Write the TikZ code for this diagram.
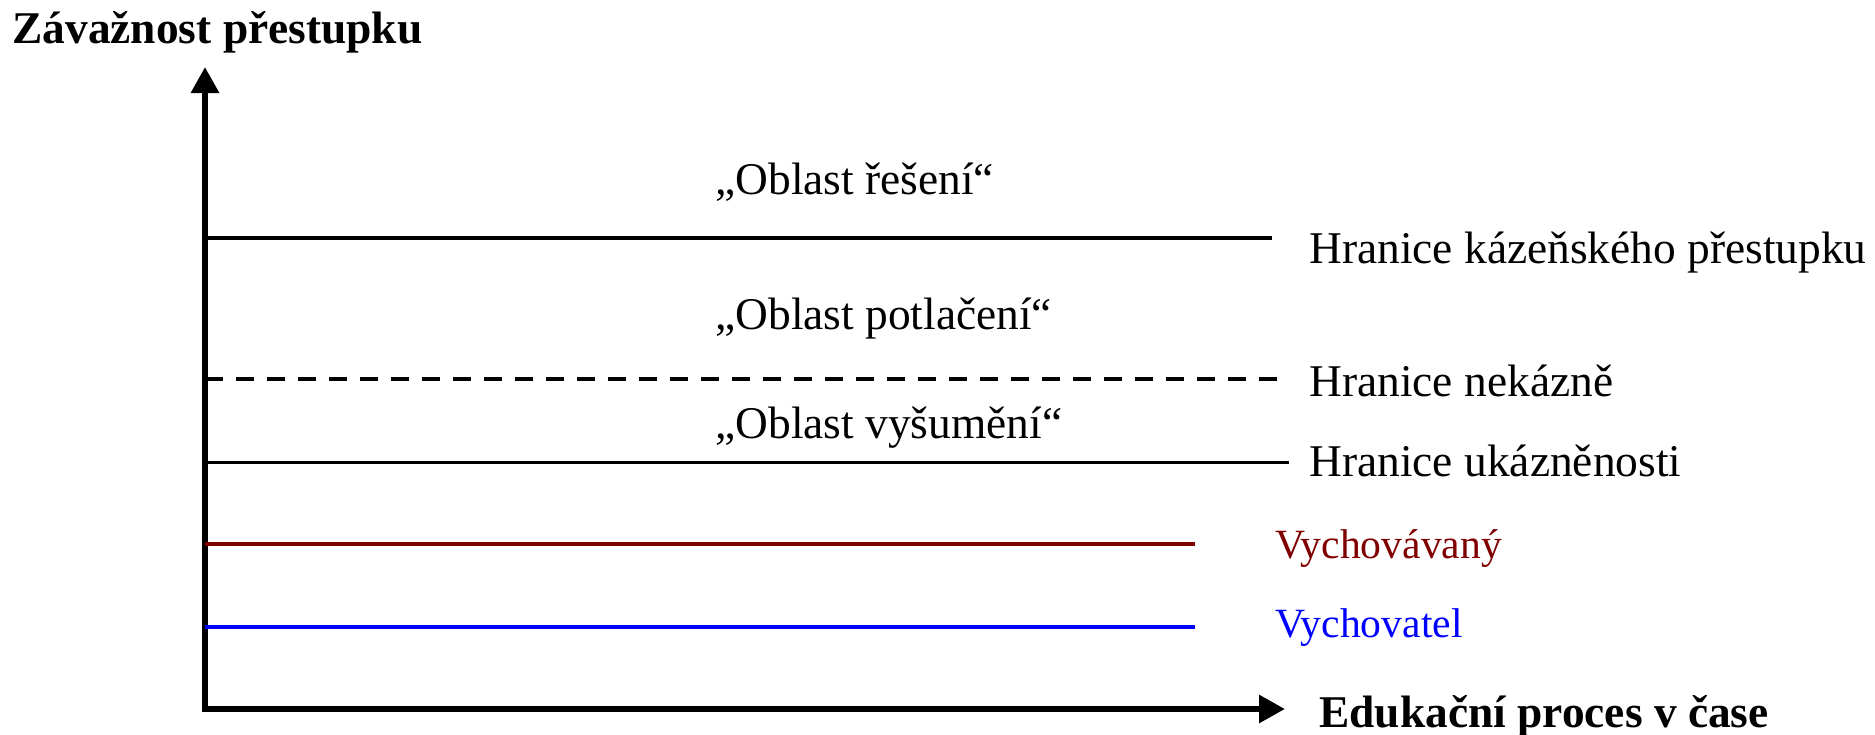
\documentclass[tikz,border=0pt]{standalone}
\usepackage{fontspec}
\setmainfont{Liberation Serif}
\usetikzlibrary{arrows.meta}
\definecolor{maroonline}{HTML}{800000}
\definecolor{blueline}{HTML}{0000FF}
\begin{document}
\begin{tikzpicture}[x=0.5pt,y=-0.5pt,
  lbl/.style={anchor=base west,inner sep=0pt,font=\fontsize{22.7pt}{26pt}\selectfont},
  slbl/.style={anchor=base west,inner sep=0pt,font=\fontsize{20.8pt}{24pt}\selectfont},
  blbl/.style={lbl,font=\fontsize{22.7pt}{26pt}\selectfont\bfseries},
  solidline/.style={line width=2pt},
  dashline/.style={line width=2pt,dash pattern=on 9pt off 6.5pt},
  thinline/.style={line width=1.5pt},
  colline/.style={line width=2.25pt}]
\useasboundingbox (0,0) rectangle (1875,734);
% axes
\coordinate (origin) at (205,709);
\coordinate (ytip) at (205,67);
\coordinate (xtip) at (1285,709);
\draw[line width=3pt,{Triangle[width=13.5pt,length=13pt]}-{Triangle[width=13.5pt,length=13pt]}] (ytip) -- (origin) -- (xtip);
\node[blbl] (ylab) at (12,43) {Závažnost přestupku};
\node[blbl] (xlab) at (1319,727) {Edukační proces v čase};
% boundary lines
\coordinate (l1s) at (205,238); \coordinate (l1e) at (1272,238);
\coordinate (l2s) at (205,379); \coordinate (l2e) at (1282,379);
\coordinate (l3s) at (205,462); \coordinate (l3e) at (1289,462);
\coordinate (l4s) at (205,544); \coordinate (l4e) at (1195,544);
\coordinate (l5s) at (205,627); \coordinate (l5e) at (1195,627);
\draw[solidline] (l1s) -- (l1e);
\draw[dashline] (l2s) -- (l2e);
\draw[thinline] (l3s) -- (l3e);
\draw[colline,maroonline] (l4s) -- (l4e);
\draw[colline,blueline] (l5s) -- (l5e);
% labels
\node[lbl] (h1) at (1309,263) {Hranice kázeňského přestupku};
\node[lbl] (h2) at (1309,396) {Hranice nekázně};
\node[lbl] (h3) at (1309,476) {Hranice ukázněnosti};
\node[slbl,text=maroonline] (v1) at (1275,558) {Vychovávaný};
\node[slbl,text=blueline] (v2) at (1275,637) {Vychovatel};
\node[lbl] (o1) at (715,194) {„Oblast řešení“};
\node[lbl] (o2) at (715,329) {„Oblast potlačení“};
\node[lbl] (o3) at (715,438) {„Oblast vyšumění“};
\end{tikzpicture}
\end{document}
